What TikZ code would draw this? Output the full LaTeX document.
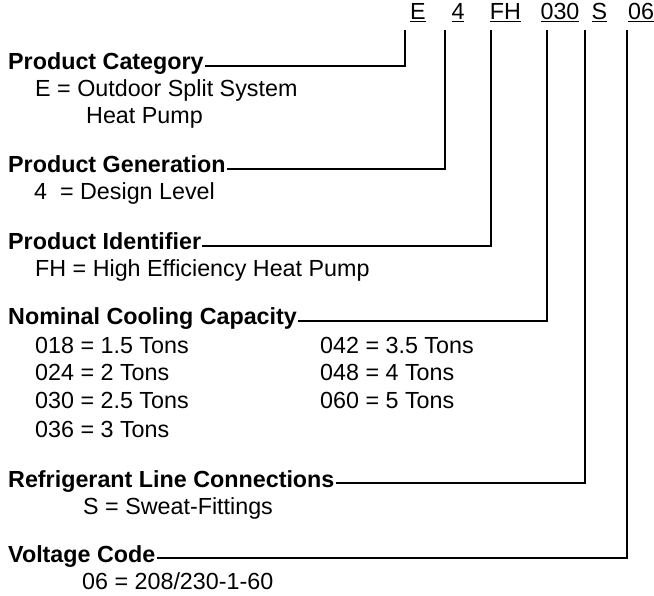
\documentclass[tikz,border=0pt]{standalone}
\usepackage{fontspec}
\setmainfont{Liberation Sans}
\begin{document}
\begin{tikzpicture}[
  x=1pt, y=-1pt,
  code/.style={anchor=base, inner sep=0pt, font=\fontsize{23.3}{28}\selectfont},
  head/.style={anchor=base west, inner sep=1pt, font=\fontsize{23.3}{28}\selectfont\bfseries},
  desc/.style={anchor=base west, inner sep=0pt, font=\fontsize{23.3}{28}\selectfont},
  lead/.style={line width=1.6pt, black},
]
\useasboundingbox (0,0) rectangle (654,596);

% Code letters
\node[code] (cE)   at (418,20)   {\underline{E}};
\node[code] (c4)   at (458,20)   {\underline{4}};
\node[code] (cFH)  at (505.5,20) {\underline{FH}};
\node[code] (c030) at (560,20)   {\underline{030}};
\node[code] (cS)   at (599.5,20) {\underline{S}};
\node[code] (c06)  at (641,20)   {\underline{06}};

% top ends of the leaders, just under the codes
\coordinate (tE)   at (405,30);
\coordinate (t4)   at (445,30);
\coordinate (tFH)  at (491,30);
\coordinate (t030) at (547,30);
\coordinate (tS)   at (585,30);
\coordinate (t06)  at (627,30);

% Headings
\node[head] (hCat)  at (7,70)  {Product Category};
\node[head] (hGen)  at (7,173) {Product Generation};
\node[head] (hId)   at (7,250) {Product Identifier};
\node[head] (hCap)  at (7,325) {Nominal Cooling Capacity};
\node[head] (hRef)  at (7,487) {Refrigerant Line Connections};
\node[head] (hVolt) at (7,562) {Voltage Code};

% Descriptions
\node[desc] (dCat1) at (35,97)  {E = Outdoor Split System};
\node[desc] (dCat2) at (86,124) {Heat Pump};
\node[desc] (dGen)  at (34,200) {4~~= Design Level};
\node[desc] (dId)   at (35,277) {FH = High Efficiency Heat Pump};
\node[desc] (dC1) at (35,353)  {018 = 1.5 Tons};
\node[desc] (dC2) at (35,381)  {024 = 2 Tons};
\node[desc] (dC3) at (35,409)  {030 = 2.5 Tons};
\node[desc] (dC4) at (35,437)  {036 = 3 Tons};
\node[desc] (dC5) at (320,353) {042 = 3.5 Tons};
\node[desc] (dC6) at (320,381) {048 = 4 Tons};
\node[desc] (dC7) at (320,409) {060 = 5 Tons};
\node[desc] (dRef)  at (83,514) {S = Sweat-Fittings};
\node[desc] (dVolt) at (82,589) {06 = 208/230-1-60};

% Leaders heading -> code
\draw[lead] ([yshift=4pt]hCat.base east)  -| (tE);
\draw[lead] ([yshift=4pt]hGen.base east)  -| (t4);
\draw[lead] ([yshift=4pt]hId.base east)   -| (tFH);
\draw[lead] ([yshift=4pt]hCap.base east)  -| (t030);
\draw[lead] ([yshift=4pt]hRef.base east)  -| (tS);
\draw[lead] ([yshift=4pt]hVolt.base east) -| (t06);

\end{tikzpicture}
\end{document}
